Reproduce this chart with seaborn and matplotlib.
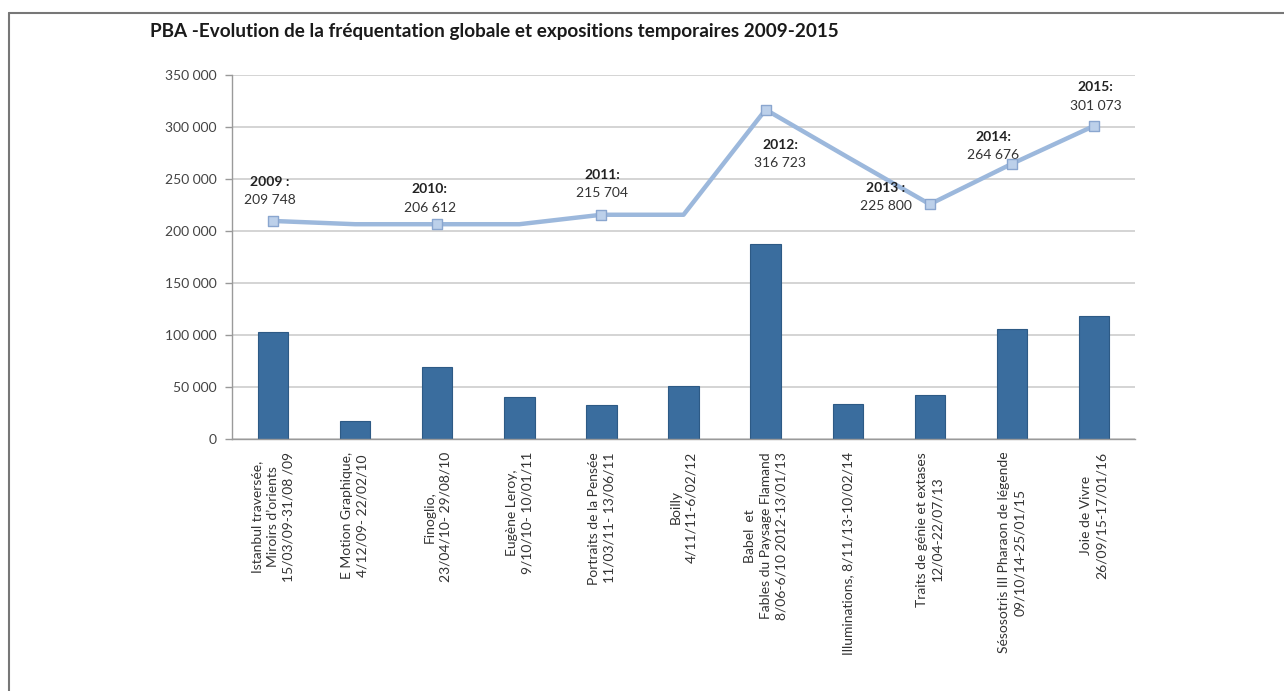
import numpy as np
import pandas as pd
import matplotlib
matplotlib.use("Agg")
import matplotlib.pyplot as plt
import seaborn as sns

# Exhibitions (bars) and global attendance (line)
expos = [
    "Istanbul traversée,\nMiroirs d’orients\n15/03/09-31/08 /09",
    "E Motion Graphique,\n4/12/09- 22/02/10",
    "Finoglio,\n23/04/10- 29/08/10",
    "Eugène Leroy,\n9/10/10- 10/01/11",
    "Portraits de la Pensée\n11/03/11- 13/06/11",
    "Boilly\n4/11/11-6/02/12",
    "Babel  et\nFables du Paysage Flamand\n8/06-6/10 2012-13/01/13",
    "Illuminations, 8/11/13-10/02/14",
    "Traits de génie et extases\n12/04-22/07/13",
    "Sésosotris III Pharaon de légende\n09/10/14-25/01/15",
    "Joie de Vivre\n26/09/15-17/01/16",
]
visiteurs_expo = [103000, 18000, 69000, 41000, 33000, 51000, 187500, 34000, 42500, 106000, 118000]
frequentation = [209748, 206612, 206612, 206612, 215704, 215704, 316723, 271000, 225800, 264676, 301073]

# yearly points that carry a marker and a label
annee_idx = [0, 2, 4, 6, 8, 9, 10]
annee_lbl = ["2009 :", "2010:", "2011:", "2012:", "2013 :", "2014:", "2015:"]
annee_val = ["209 748", "206 612", "215 704", "316 723", "225 800", "264 676", "301 073"]
# label anchor (x, y of year line) in data units
lbl_pos = [(-0.04, 247000), (1.91, 240000), (4.01, 254000), (6.18, 283000),
           (7.46, 241500), (8.77, 290500), (10.02, 338000)]

sns.set_theme(style="white")
plt.rcParams["font.family"] = ["Lato", "DejaVu Sans"]

df = pd.DataFrame({"expo": expos, "visiteurs": visiteurs_expo,
                   "x": np.arange(len(expos)), "total": frequentation})
pts = df.iloc[annee_idx]

fig = plt.figure(figsize=(12.84, 6.91), dpi=100)
ax = fig.add_axes([0.1807, 0.3643, 0.7033, 0.5272])

ax.yaxis.grid(True, color="#c9c9c9", lw=1.1)
ax.set_axisbelow(True)

sns.barplot(data=df, x="expo", y="visiteurs", color="#3a6d9e", width=0.37,
            saturation=1, edgecolor="#2d5a85", linewidth=0.8, ax=ax)
sns.lineplot(data=df, x="x", y="total", color="#9cb8dc", lw=3.2, ax=ax)
sns.scatterplot(data=pts, x="x", y="total", marker="s", s=45, color="#bcd0ea",
                edgecolor="#8aa6cf", linewidth=1, zorder=5, ax=ax)

for (x, y), yr, val in zip(lbl_pos, annee_lbl, annee_val):
    ax.text(x, y, yr, ha="center", va="center", fontsize=10, fontweight="bold", color="#222222")
    ax.text(x, y - 17500, val, ha="center", va="center", fontsize=10, color="#333333")

ax.set_ylim(0, 350000)
ax.set_xlim(-0.5, len(expos) - 0.5)
ax.set_yticks(np.arange(0, 350001, 50000))
ax.set_yticklabels([f"{v:,}".replace(",", " ") for v in range(0, 350001, 50000)])
ax.set_xlabel("")
ax.set_ylabel("")

ax.set_xticks(np.arange(len(expos)))
ax.set_xticklabels(expos, rotation=90, ha="center", va="top", multialignment="center",
                   linespacing=1.35)
ax.set_xticks(np.arange(len(expos) + 1) - 0.5, minor=True)
ax.tick_params(axis="x", which="major", length=0, pad=9, labelsize=10, labelcolor="#333333")
ax.tick_params(axis="x", which="minor", length=5, color="#999999", width=1, direction="out")
ax.tick_params(axis="y", length=5, color="#999999", width=1, direction="out",
               labelsize=10, labelcolor="#444444", pad=6, left=True)

for s in ["top", "right"]:
    ax.spines[s].set_visible(False)
for s in ["left", "bottom"]:
    ax.spines[s].set_color("#9a9a9a")
    ax.spines[s].set_linewidth(1)

fig.text(150 / 1284, 1 - 32 / 691, "PBA -Evolution de la fréquentation globale et expositions temporaires 2009-2015",
         ha="left", va="center", fontsize=13.6, fontweight="bold", color="#1a1a1a")

# frame lines of the original screenshot
fig.add_artist(plt.Line2D([9 / 1284, 9 / 1284], [0, 1 - 13 / 691], color="#777777", lw=1.5))
fig.add_artist(plt.Line2D([9 / 1284, 1], [1 - 13 / 691, 1 - 13 / 691], color="#777777", lw=1.5))

fig.savefig("out.png", dpi=100)
